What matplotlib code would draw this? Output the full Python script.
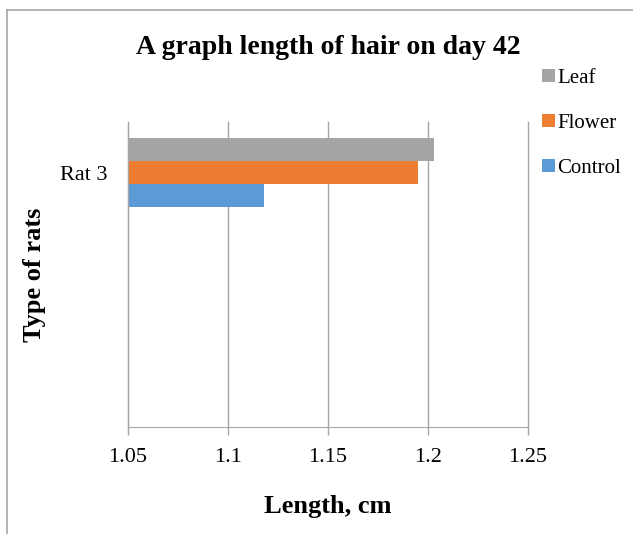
import numpy as np
import matplotlib
matplotlib.use("Agg")
from matplotlib import pyplot as plt
from matplotlib.lines import Line2D

# datos
categorias = ["", "", "Rat 3"]
control = [np.nan, np.nan, 1.118]
flower = [np.nan, np.nan, 1.195]
leaf = [np.nan, np.nan, 1.203]
ticks_x = [1.05, 1.1, 1.15, 1.2, 1.25]
etiquetas_x = ["1.05", "1.1", "1.15", "1.2", "1.25"]

plt.rcParams["font.family"] = ["Liberation Serif", "DejaVu Serif"]

gris = "#a6a6a6"
fig = plt.figure(figsize=(6.33, 5.34), dpi=100)
ax = fig.add_axes([128 / 633, 1 - 427 / 534, 400 / 633, 305 / 534])

y = np.arange(len(categorias))
h = 0.226
base = 1.05
# base=1.05 para que las barras empiecen en el eje
b_c = ax.barh(y - h, np.array(control) - base, h, left=base, color="#5b9bd5", label="Control")
b_f = ax.barh(y, np.array(flower) - base, h, left=base, color="#ed7d31", label="Flower")
b_l = ax.barh(y + h, np.array(leaf) - base, h, left=base, color="#a5a5a5", label="Leaf")

ax.set_xlim(1.05, 1.25)
ax.set_ylim(-0.5, 2.5)
ax.set_xticks(ticks_x)
ax.set_xticklabels(etiquetas_x, fontsize=16)
ax.set_yticks(y)
ax.set_yticklabels(categorias, fontsize=16)
ax.tick_params(axis="y", length=0, pad=15)
ax.tick_params(axis="x", length=6, width=1, color=gris, direction="out", pad=9)

ax.grid(axis="x", color=gris, linewidth=1)
for linea in ax.get_xgridlines():
    linea.set_clip_on(False)
ax.set_axisbelow(True)
for lado in ["top", "right"]:
    ax.spines[lado].set_visible(False)
ax.spines["left"].set_color(gris)
ax.spines["bottom"].set_color(gris)

fig.text(328 / 633, 1 - 47 / 534, "A graph length of hair on day 42",
         ha="center", va="center", fontsize=20, fontweight="bold")
fig.text(328 / 633, 1 - 507 / 534, "Length, cm",
         ha="center", va="center", fontsize=19, fontweight="bold")
fig.text(35 / 633, 1 - 275 / 534, "Type of rats", rotation=90,
         ha="center", va="center", fontsize=19, fontweight="bold")

ax.legend(handles=[b_l, b_f, b_c], loc="upper left",
          bbox_to_anchor=(542 / 633, 1 - 69 / 534), bbox_transform=fig.transFigure,
          frameon=False, fontsize=15, handlelength=0.6, handleheight=0.6,
          handletextpad=0.15, labelspacing=1.25, borderpad=0, borderaxespad=0)

# marco del grafico (solo arriba e izquierda se ven)
fig.add_artist(Line2D([7.5 / 633, 7.5 / 633], [0, 1 - 9.5 / 534], color=gris, linewidth=1.2))
fig.add_artist(Line2D([7.5 / 633, 1], [1 - 9.5 / 534, 1 - 9.5 / 534], color=gris, linewidth=1.2))

plt.savefig("out.png", dpi=100)
plt.close()
